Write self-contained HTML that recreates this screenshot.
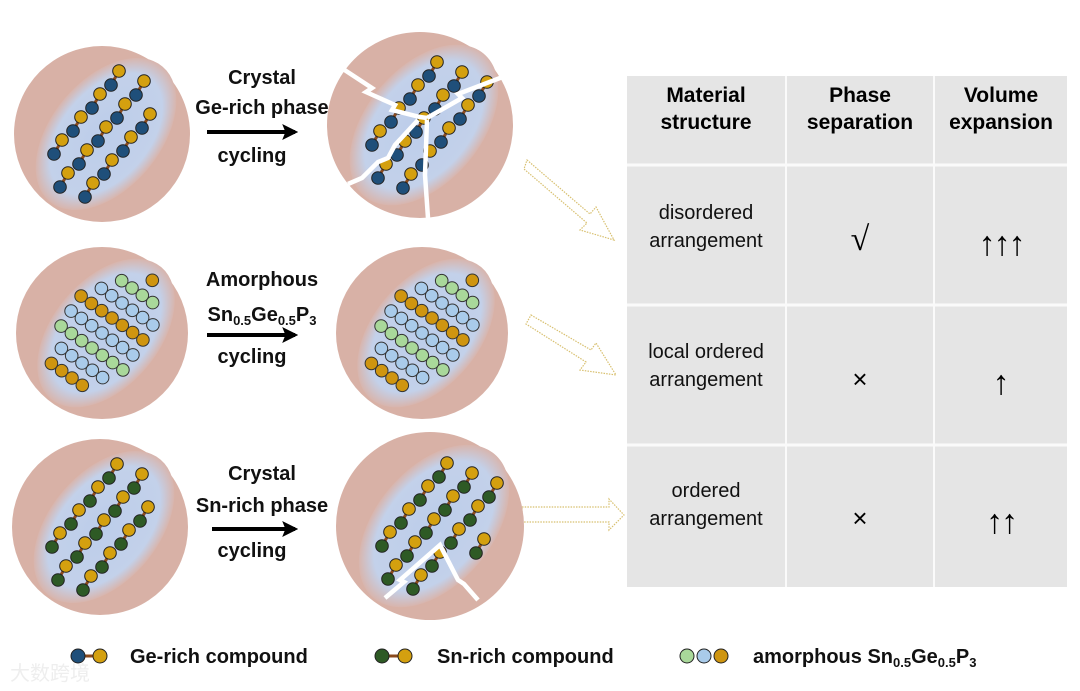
<!DOCTYPE html>
<html><head><meta charset="utf-8">
<style>
html,body{margin:0;padding:0;background:#fff;}
body{width:1080px;height:691px;overflow:hidden;position:relative;font-family:"Liberation Sans",Arial,sans-serif;}
svg{position:absolute;left:0;top:0;}
</style></head>
<body>
<svg id="s" width="1080" height="691" viewBox="0 0 1080 691" xmlns="http://www.w3.org/2000/svg">
<defs>
<radialGradient id="bg" cx="50%" cy="50%" r="50%">
<stop offset="0" stop-color="#bccdea"/><stop offset="0.8" stop-color="#c3d1ea"/><stop offset="1" stop-color="#d8b5ad"/>
</radialGradient>
<marker id="ah" viewBox="0 0 10 10" refX="8" refY="5" markerWidth="4" markerHeight="4" orient="auto"><path d="M0,0 L10,5 L0,10 L2,5z" fill="#000"/></marker>
</defs>
<g>
<rect x="627" y="76" width="440" height="511" fill="#e5e5e5"/>
<g stroke="#fafafa" stroke-width="3">
<line x1="627" y1="165" x2="1067" y2="165"/>
<line x1="627" y1="305" x2="1067" y2="305"/>
<line x1="627" y1="445" x2="1067" y2="445"/>
<line x1="786" y1="76" x2="786" y2="587" stroke-width="2"/>
<line x1="934" y1="76" x2="934" y2="587" stroke-width="2"/>
</g>
<g font-family="Liberation Sans, Arial, sans-serif" text-anchor="middle" fill="#000">
<g font-weight="bold" font-size="21">
<text x="706" y="102">Material</text><text x="706" y="129">structure</text>
<text x="860" y="102">Phase</text><text x="860" y="129">separation</text>
<text x="1001" y="102">Volume</text><text x="1001" y="129">expansion</text>
</g>
<g font-size="20" fill="#111">
<text x="706" y="219">disordered</text><text x="706" y="247">arrangement</text>
<text x="706" y="358">local ordered</text><text x="706" y="386">arrangement</text>
<text x="706" y="497">ordered</text><text x="706" y="525">arrangement</text>
</g>
<g font-family="Liberation Serif, serif" font-size="34">
<text x="860" y="250">√</text>
<text x="1001" y="255" letter-spacing="-2">↑↑↑</text>
<text x="1001" y="394">↑</text>
<text x="1001" y="533" letter-spacing="-2">↑↑</text>
</g>
<g font-family="Liberation Sans, sans-serif" font-size="26">
<text x="860" y="388">×</text>
<text x="860" y="527">×</text>
</g>
</g>
</g>
<g fill="none" stroke="#d8c070" stroke-width="1.2" stroke-dasharray="1.5,1.2">
<path d="M527,160 L590,214 L596,207 L614,240 L580,230 L587,223 L524,169Z"/>
<path d="M531,315 L591,350 L596,343 L616,375 L580,370 L586,362 L526,324Z"/>
<path d="M522,507 L609,507 L609,499 L624,515 L609,530 L609,522 L522,522Z"/>
</g>
<g font-family="Liberation Sans, Arial, sans-serif" font-weight="bold" font-size="20" text-anchor="middle" fill="#111">
<text x="262" y="84">Crystal</text><text x="262" y="114">Ge-rich phase</text><text x="252" y="162">cycling</text>
<text x="262" y="286">Amorphous</text>
<text x="262" y="321">Sn<tspan font-size="13" dy="4">0.5</tspan><tspan dy="-4">Ge</tspan><tspan font-size="13" dy="4">0.5</tspan><tspan dy="-4">P</tspan><tspan font-size="13" dy="4">3</tspan></text>
<text x="252" y="363">cycling</text>
<text x="262" y="480">Crystal</text><text x="262" y="512">Sn-rich phase</text><text x="252" y="557">cycling</text>
</g>
<g stroke="#000" stroke-width="4" fill="none">
<line x1="207" y1="132" x2="295" y2="132" marker-end="url(#ah)"/>
<line x1="207" y1="335" x2="295" y2="335" marker-end="url(#ah)"/>
<line x1="212" y1="529" x2="295" y2="529" marker-end="url(#ah)"/>
</g>
<g id="parts"></g>
<g font-family="Liberation Sans, Arial, sans-serif" font-weight="bold" font-size="20" fill="#111">
<text x="130" y="663">Ge-rich compound</text>
<text x="437" y="663">Sn-rich compound</text>
<text x="753" y="663">amorphous Sn<tspan font-size="13" dy="4">0.5</tspan><tspan dy="-4">Ge</tspan><tspan font-size="13" dy="4">0.5</tspan><tspan dy="-4">P</tspan><tspan font-size="13" dy="4">3</tspan></text>
</g>
<g stroke="#222" stroke-width="1">
<line x1="80" y1="656" x2="100" y2="656" stroke="#8b4a1c" stroke-width="3"/>
<circle cx="78" cy="656" r="7" fill="#1f4f7a"/><circle cx="100" cy="656" r="7" fill="#d4a00f"/>
<line x1="385" y1="656" x2="405" y2="656" stroke="#8b4a1c" stroke-width="3"/>
<circle cx="382" cy="656" r="7" fill="#2e5a25"/><circle cx="405" cy="656" r="7" fill="#d4a00f"/>
<circle cx="687" cy="656" r="7" fill="#a9d89a"/><circle cx="704" cy="656" r="7" fill="#a9cbea"/><circle cx="721" cy="656" r="7" fill="#cf9510"/>
</g>
<text x="10" y="680" font-family="Noto Sans CJK SC, sans-serif" font-size="20" fill="#eee">大数跨境</text>
</svg>
<script>
var NS="http://www.w3.org/2000/svg",P=document.getElementById("parts");
function el(t,a,par){var e=document.createElementNS(NS,t);for(var k in a)e.setAttribute(k,a[k]);(par||P).appendChild(e);return e;}
function particle(cx,cy,r,type,crack){
 var g=el("g",{});
 el("circle",{cx:cx,cy:cy,r:r,fill:"#d8b1a6"},g);
 var ang=-50, erx=r*1.0, ery=r*0.62;
 el("ellipse",{cx:cx+4,cy:cy,rx:erx,ry:ery,fill:"url(#bg)",transform:"rotate("+ang+" "+(cx+4)+" "+cy+")"},g);
 var a=ang*Math.PI/180, ca=Math.cos(a), sa=Math.sin(a);
 function inside(x,y,f){var dx=x-cx-4,dy=y-cy;var u=dx*ca+dy*sa,v=-dx*sa+dy*ca;return (u*u)/(erx*erx*f*f)+(v*v)/(ery*ery*f*f)<1;}
 if(type=="am"){
  var cols=["#a9d89a","#a9cbea","#cf9510","#a9cbea","#a9d89a","#a9cbea","#cf9510","#a9cbea","#a9d89a","#cf9510","#a9cbea"];
  for(var j=-5;j<=5;j++){var col=cols[(j+5)%cols.length];
   for(var i=-8;i<=8;i++){
    var x=cx+i*10.3+j*10, y=cy+i*7.3-j*15;
    if(inside(x,y,0.82)) el("circle",{cx:x,cy:y,r:6.3,fill:col,stroke:"#333","stroke-width":1},g);
   }}
 } else {
  var c1=type=="ge"?"#1f4f7a":"#2e5a25";
  for(var j=-6;j<=6;j++)for(var i=-8;i<=8;i++){
   var x=cx+i*19+j*25, y=cy-i*23+j*10;
   if(!inside(x,y,0.84))continue;
   var x1=x-4,y1=y+7,x2=x+4,y2=y-7;
   el("line",{x1:x1,y1:y1,x2:x2,y2:y2,stroke:"#8b4a1c","stroke-width":3},g);
   el("circle",{cx:x1,cy:y1,r:6.3,fill:c1,stroke:"#222","stroke-width":1},g);
   el("circle",{cx:x2,cy:y2,r:6.3,fill:"#d4a00f",stroke:"#222","stroke-width":1},g);
  }
 }
 var w={fill:"none",stroke:"#fff","stroke-width":4.5,"stroke-linejoin":"miter"};
 if(crack=="ge"){
  el("polyline",Object.assign({points:"340,67 372,88 366,92 395,105 392,110 420,117 427,118"},w),g);
  el("polyline",Object.assign({points:"427,118 462,98 458,94 500,78 517,72"},w),g);
  el("polyline",Object.assign({points:"427,120 425,175 428,218"},w),g);
  el("polyline",Object.assign({points:"418,120 395,145 388,158 378,162 362,178 348,184"},w),g);
 }
 if(crack=="sn"){
  el("polyline",Object.assign({points:"385,598 404,582 400,580 440,545 458,580 464,584 478,600"},w),g);
 }
}
particle(102,134,88,"ge");
particle(420,125,93,"ge","ge");
particle(102,333,86,"am");
particle(422,333,86,"am");
particle(100,527,88,"sn");
particle(430,526,94,"sn","sn");
</script>
</body></html>
